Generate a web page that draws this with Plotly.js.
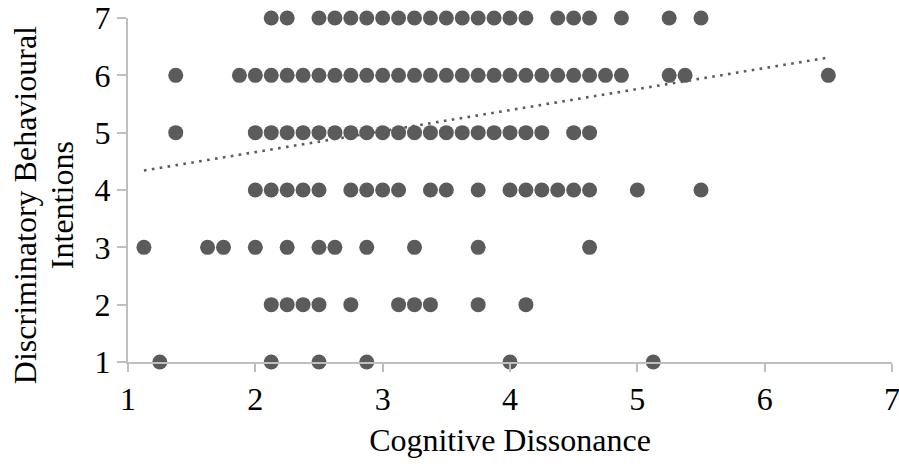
<!DOCTYPE html>
<html>
<head>
<meta charset="utf-8">
<script src="https://cdn.plot.ly/plotly-3.0.1.min.js"></script>
<style>html,body{margin:0;padding:0;background:#fff;}#chart{width:899px;height:466px;}</style>
</head>
<body>
<div id="chart"></div>
<script>
// Cognitive Dissonance values observed at each Discriminatory Behavioural Intentions level
const cdAtIntent7 = [2.125,2.25,2.5,2.625,2.75,2.875,3,3.125,3.25,3.375,3.5,3.625,3.75,3.875,4,4.125,4.375,4.5,4.625,4.875,5.25,5.5];
const cdAtIntent6 = [1.375,1.875,2,2.125,2.25,2.375,2.5,2.625,2.75,2.875,3,3.125,3.25,3.375,3.5,3.625,3.75,3.875,4,4.125,4.25,4.375,4.5,4.625,4.75,4.875,5.25,5.375,6.5];
const cdAtIntent5 = [1.375,2,2.125,2.25,2.375,2.5,2.625,2.75,2.875,3,3.125,3.25,3.375,3.5,3.625,3.75,3.875,4,4.125,4.25,4.5,4.625];
const cdAtIntent4 = [2,2.125,2.25,2.375,2.5,2.75,2.875,3,3.125,3.375,3.5,3.75,4,4.125,4.25,4.375,4.5,4.625,5,5.5];
const cdAtIntent3 = [1.125,1.625,1.75,2,2.25,2.5,2.625,2.875,3.25,3.75,4.625];
const cdAtIntent2 = [2.125,2.25,2.375,2.5,2.75,3.125,3.25,3.375,3.75,4.125];
const cdAtIntent1 = [1.25,2.125,2.5,2.875,4,5.125];
const intentLevels = [7,6,5,4,3,2,1];

// Linear trendline end points
const trendX = [1.125, 6.5];
const trendY = [4.34, 6.31];

const tickVals = [1,2,3,4,5,6,7];
const tickText = ["1","2","3","4","5","6","7"];
const xTitle = "Cognitive Dissonance";
const yTitleLines = ["Discriminatory Behavioural", "Intentions"];

const groups = [cdAtIntent7, cdAtIntent6, cdAtIntent5, cdAtIntent4, cdAtIntent3, cdAtIntent2, cdAtIntent1];
const xs = [], ys = [];
groups.forEach((g, i) => { g.forEach(v => { xs.push(v); ys.push(intentLevels[i]); }); });

const grey = '#5b5b5b';
const axisGrey = '#bfbfbf';
const font = {family: 'Liberation Serif, Times New Roman, serif', size: 32, color: '#000'};

const data = [
  {x: xs, y: ys, type: 'scatter', mode: 'markers', cliponaxis: false,
   marker: {size: 15, color: grey}, hoverinfo: 'x+y'},
  {x: trendX, y: trendY, type: 'scatter', mode: 'lines', cliponaxis: false,
   line: {color: grey, width: 2.6, dash: '2.6px,5.4px'}, hoverinfo: 'skip'}
];

const layout = {
  width: 899, height: 466,
  margin: {l: 128, r: 7, t: 18, b: 104, pad: 0},
  paper_bgcolor: '#fff', plot_bgcolor: '#fff',
  showlegend: false,
  font: font,
  xaxis: {
    range: [1, 7], tickvals: tickVals, ticktext: tickText,
    showgrid: false, zeroline: false,
    showline: true, linecolor: axisGrey, linewidth: 2,
    ticks: 'outside', ticklen: 8, tickwidth: 2, tickcolor: axisGrey,
    tickfont: font, ticklabeloverflow: 'allow',
    title: {text: xTitle, font: font, standoff: 12}
  },
  yaxis: {
    range: [1, 7], tickvals: tickVals, ticktext: tickText,
    showgrid: false, zeroline: false,
    showline: true, linecolor: axisGrey, linewidth: 2,
    ticks: 'outside', ticklen: 9, tickwidth: 2, tickcolor: axisGrey,
    tickfont: font, ticklabeloverflow: 'allow'
  },
  annotations: [
    {text: yTitleLines[0], xref: 'paper', yref: 'paper', x: 0, y: 0.456,
     xanchor: 'center', yanchor: 'middle', textangle: -90, showarrow: false,
     xshift: -103, font: font},
    {text: yTitleLines[1], xref: 'paper', yref: 'paper', x: 0, y: 0.456,
     xanchor: 'center', yanchor: 'middle', textangle: -90, showarrow: false,
     xshift: -66, font: font}
  ]
};

Plotly.newPlot('chart', data, layout, {displayModeBar: false, staticPlot: true});
</script>
</body>
</html>
